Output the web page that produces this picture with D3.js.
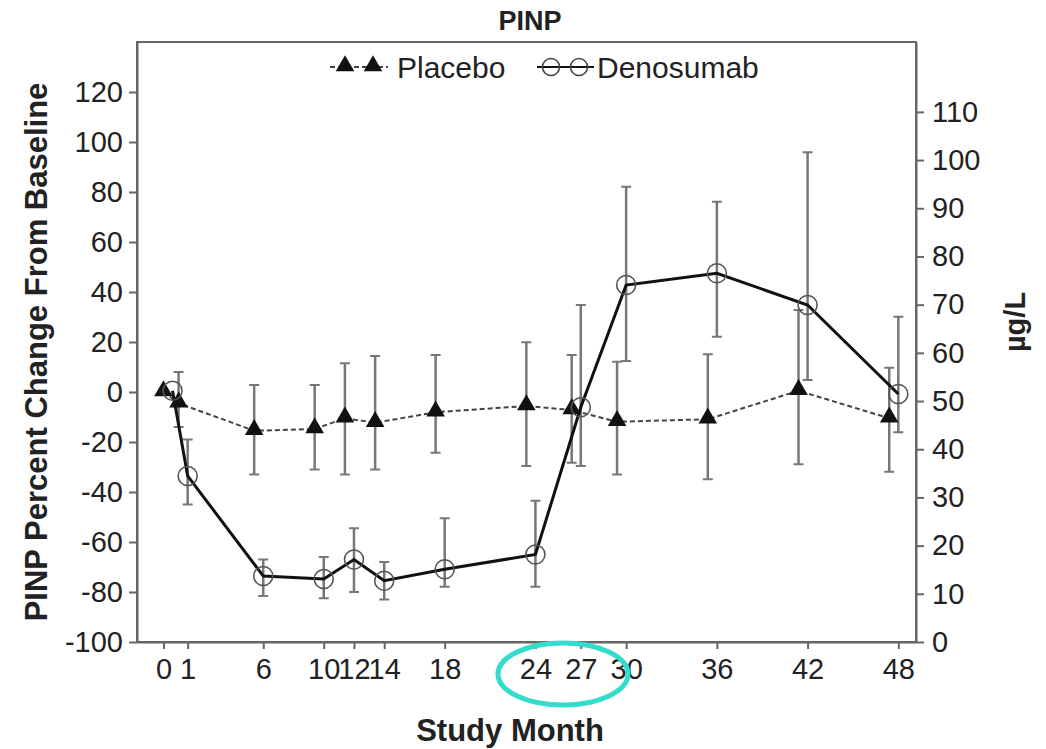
<!DOCTYPE html>
<html><head><meta charset="utf-8">
<script src="https://cdn.jsdelivr.net/npm/d3@7"></script>
<style>
body{margin:0;background:#fff;}
text{font-family:"Liberation Sans",Arial,sans-serif;fill:#222;}
</style></head>
<body><svg id="c" width="1046" height="749"></svg>
<script>
// ---- data ----
const months = [0, 1, 6, 10, 12, 14, 18, 24, 27, 30, 36, 42, 48];
const placeboMean = [0, -4.5, -15.5, -14.8, -10.5, -12.3, -8.1, -5.6, -7.2, -11.9, -10.9, 0.5, -10.5];
const placeboUpper = [0, 8, 2.8, 2.8, 11.5, 14.4, 14.8, 19.9, 14.8, 12.1, 15.1, 32.8, 9.7];
const placeboLower = [0, -14, -33, -31, -33, -31, -24.3, -29.6, -28.3, -33, -34.9, -28.9, -31.9];
const denoMean = [0.5, -33.6, -73.6, -74.8, -67, -75.5, -70.9, -65, -6.1, 42.8, 47.5, 34.8, -0.8];
const denoUpper = [0.5, -19, -67, -66, -54.5, -68, -50.5, -43.5, 34.8, 82.1, 76.1, 95.9, 30.1];
const denoLower = [0.5, -45, -81.6, -82.5, -80, -83, -77.9, -77.9, -29.6, 12.4, 22.1, 4.8, -16.1];
const placeboOffset = -0.6;
const xTickPos = [-0.6, 1, 6, 10, 12, 14, 18, 24, 27, 30, 36, 42, 48];
const xTickLabels = ["0", "1", "6", "10", "12", "14", "18", "24", "27", "30", "36", "42", "48"];
const leftTicks = [-100, -80, -60, -40, -20, 0, 20, 40, 60, 80, 100, 120];
const rightTicks = [0, 10, 20, 30, 40, 50, 60, 70, 80, 90, 100, 110];

// ---- layout ----
const L = 137, R = 916, T = 42, B = 642;
const svg = d3.select("#c");
const x = d3.scaleLinear().domain([-2.35, 49.17]).range([L, R]);
const y = d3.scaleLinear().domain([-100, 140]).range([B, T]);
const y2 = d3.scaleLinear().domain([0, 124.5]).range([B, T]);
const axisCol = "#666";

// frame
svg.append("rect").attr("x", L).attr("y", T).attr("width", R - L).attr("height", B - T)
  .attr("fill", "none").attr("stroke", axisCol).attr("stroke-width", 2);

// axes
const styleAxis = g => {
  g.select(".domain").attr("stroke", axisCol).attr("stroke-width", 2);
  g.selectAll(".tick line").attr("stroke", axisCol).attr("stroke-width", 2);
  g.selectAll(".tick text").style("font-size", "29px").attr("fill", "#222");
};
svg.append("g").attr("transform", `translate(${L},0)`)
  .call(d3.axisLeft(y).tickValues(leftTicks).tickFormat(d => String(d)).tickSize(8).tickPadding(6).tickSizeOuter(0))
  .call(styleAxis);
svg.append("g").attr("transform", `translate(${R},0)`)
  .call(d3.axisRight(y2).tickValues(rightTicks).tickFormat(d => String(d)).tickSize(8).tickPadding(8).tickSizeOuter(0))
  .call(styleAxis);
svg.append("g").attr("transform", `translate(0,${B})`)
  .call(d3.axisBottom(x).tickValues(xTickPos).tickFormat((d, i) => xTickLabels[i]).tickSize(7).tickPadding(9).tickSizeOuter(0))
  .call(styleAxis);

// data tables
const plac = months.map((m, i) => ({m: m + placeboOffset, v: placeboMean[i], hi: placeboUpper[i], lo: placeboLower[i]}));
const deno = months.map((m, i) => ({m: m, v: denoMean[i], hi: denoUpper[i], lo: denoLower[i]}));

// error bars
function errBars(data, cap) {
  const g = svg.append("g").attr("stroke", "#777").attr("stroke-width", 2.5);
  data.filter(d => d.hi !== d.lo).forEach(d => {
    g.append("line").attr("x1", x(d.m)).attr("x2", x(d.m)).attr("y1", y(d.hi)).attr("y2", y(d.lo));
    g.append("line").attr("x1", x(d.m) - cap).attr("x2", x(d.m) + cap).attr("y1", y(d.hi)).attr("y2", y(d.hi)).attr("stroke-width", 2);
    g.append("line").attr("x1", x(d.m) - cap).attr("x2", x(d.m) + cap).attr("y1", y(d.lo)).attr("y2", y(d.lo)).attr("stroke-width", 2);
  });
}
errBars(plac, 5);
errBars(deno, 5);

const line = d3.line().x(d => x(d.m)).y(d => y(d.v));
svg.append("path").datum(plac).attr("d", line).attr("fill", "none")
  .attr("stroke", "#444").attr("stroke-width", 2).attr("stroke-dasharray", "5,3");
svg.append("path").datum(deno).attr("d", line).attr("fill", "none")
  .attr("stroke", "#111").attr("stroke-width", 3);

const tri = d3.symbol().type(d3.symbolTriangle).size(150);
svg.append("g").selectAll("path").data(plac).join("path")
  .attr("d", tri).attr("transform", d => `translate(${x(d.m)},${y(d.v) - 1})`).attr("fill", "#111");
svg.append("g").selectAll("circle").data(deno).join("circle")
  .attr("cx", d => x(d.m)).attr("cy", d => y(d.v)).attr("r", 9.5)
  .attr("fill", "none").attr("stroke", "#555").attr("stroke-width", 1.6);

// title & labels
svg.append("text").attr("x", 530).attr("y", 30).attr("text-anchor", "middle")
  .style("font-size", "27px").style("font-weight", "bold").text("PINP");
svg.append("text").attr("transform", `translate(47,352) rotate(-90)`).attr("text-anchor", "middle")
  .style("font-size", "31px").style("font-weight", "bold").text("PINP Percent Change From Baseline");
svg.append("text").attr("x", 510).attr("y", 741).attr("text-anchor", "middle")
  .style("font-size", "31px").style("font-weight", "bold").text("Study Month");
svg.append("text").attr("transform", `translate(1025,322) rotate(-90)`).attr("text-anchor", "middle")
  .style("font-size", "29px").style("font-weight", "bold").text("µg/L");

// legend
const lg = svg.append("g");
const ly = 67;
lg.append("line").attr("x1", 330).attr("x2", 388).attr("y1", ly).attr("y2", ly)
  .attr("stroke", "#444").attr("stroke-width", 2).attr("stroke-dasharray", "5,3");
[345, 373].forEach(cx => lg.append("path").attr("d", tri).attr("transform", `translate(${cx},${ly - 1})`).attr("fill", "#111"));
lg.append("text").attr("x", 397).attr("y", ly + 11).style("font-size", "30px").text("Placebo");
lg.append("line").attr("x1", 537).attr("x2", 594).attr("y1", ly).attr("y2", ly)
  .attr("stroke", "#111").attr("stroke-width", 2);
[551, 579].forEach(cx => lg.append("circle").attr("cx", cx).attr("cy", ly).attr("r", 8.5)
  .attr("fill", "none").attr("stroke", "#444").attr("stroke-width", 1.6));
lg.append("text").attr("x", 597).attr("y", ly + 11).style("font-size", "30px").text("Denosumab");

// annotation ellipse
svg.append("ellipse").attr("cx", 563).attr("cy", 674).attr("rx", 65).attr("ry", 31)
  .attr("fill", "none").attr("stroke", "#33dccb").attr("stroke-width", 5);
</script></body></html>
